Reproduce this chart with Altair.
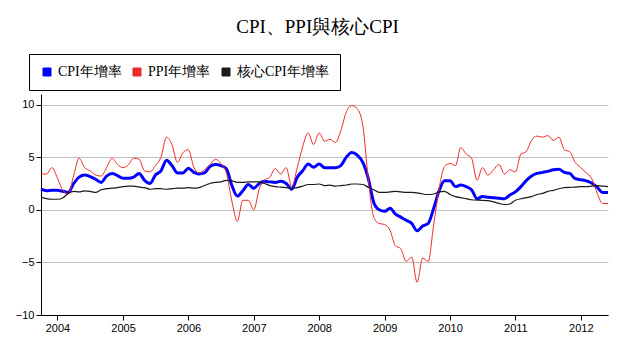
import altair as alt
import pandas as pd

# Monthly data, Oct 2003 .. Jun 2012
start_month = "2003-10-01"
n_months = 105
months = pd.date_range(start_month, periods=n_months, freq="MS").strftime("%Y-%m-%d").tolist()

series_names = ["CPI年增率", "PPI年增率", "核心CPI年增率"]

cpi = [
    1.95, 1.8, 1.85,
    1.85, 1.75, 1.65, 2.5, 3.1, 3.3, 3.15, 2.9, 2.6, 3.2, 3.45, 3.25,
    3.0, 3.0, 3.1, 3.45, 2.8, 2.5, 3.3, 3.7, 4.7, 4.2, 3.5, 3.5,
    3.95, 3.55, 3.4, 3.5, 4.1, 4.3, 4.2, 3.9, 2.3, 1.3, 1.8, 2.4,
    2.05, 2.5, 2.7, 2.65, 2.6, 2.7, 2.5, 1.95, 3.1, 3.7, 4.35, 4.05,
    4.35, 4.0, 4.0, 4.0, 4.2, 5.0, 5.45, 5.2, 4.5, 3.0, 0.7, 0.0,
    -0.15, 0.15, -0.4, -0.7, -1.0, -1.3, -2.0, -1.55, -1.3, 0.1, 1.8, 2.75,
    2.75, 2.2, 2.35, 2.2, 1.9, 1.05, 1.25, 1.2, 1.15, 1.1, 1.05, 1.4,
    1.7, 2.2, 2.75, 3.2, 3.45, 3.55, 3.65, 3.8, 3.85, 3.55, 3.45, 2.95,
    2.85, 2.75, 2.55, 2.15, 1.65, 1.65,
]

ppi = [
    3.4, 3.4, 4.0,
    3.0, 1.8, 1.5, 3.3, 4.9, 4.0, 3.7, 3.3, 3.2, 4.0, 4.9, 4.3,
    4.0, 4.3, 4.9, 4.8, 3.7, 3.6, 4.2, 5.0, 6.9, 6.2, 4.5, 5.4,
    5.7, 4.0, 3.5, 3.8, 4.3, 4.8, 4.4, 3.5, 0.8, -1.1, 0.9, 0.9,
    0.0, 2.0, 2.8, 3.1, 3.9, 3.4, 4.0, 2.2, 4.0, 6.0, 7.3, 6.2,
    7.3, 6.5, 6.7, 6.4, 7.5, 9.3, 9.9, 9.6, 8.0, 3.0, -0.7, -1.3,
    -1.4, -2.0, -3.4, -3.7, -4.9, -4.5, -6.9, -4.6, -4.9, -1.5, 2.0, 4.1,
    4.4, 4.2, 5.9, 5.3, 4.9, 2.8, 4.0, 3.3, 3.8, 4.3, 3.4, 3.8,
    3.6, 5.3, 5.5, 6.6, 7.0, 6.9, 7.05, 6.6, 6.9, 5.7, 5.5, 4.5,
    4.0, 3.5, 3.0, 1.6, 0.6, 0.6,
]

core = [
    1.2, 1.05, 1.0,
    1.0, 1.15, 1.55, 1.75, 1.7, 1.8, 1.75, 1.65, 1.9, 2.0, 2.05, 2.1,
    2.2, 2.25, 2.25, 2.15, 2.1, 1.95, 2.0, 2.0, 1.95, 2.0, 2.05, 2.05,
    2.1, 2.05, 2.1, 2.3, 2.5, 2.6, 2.65, 2.8, 2.75, 2.6, 2.6, 2.65,
    2.65, 2.65, 2.5, 2.3, 2.2, 2.15, 2.1, 2.05, 2.1, 2.25, 2.4, 2.4,
    2.45, 2.3, 2.35, 2.25, 2.3, 2.35, 2.45, 2.45, 2.4, 2.15, 1.9, 1.65,
    1.65, 1.7, 1.75, 1.7, 1.65, 1.65, 1.6, 1.5, 1.45, 1.5, 1.7, 1.75,
    1.45, 1.25, 1.15, 1.05, 0.95, 0.92, 0.9, 0.86, 0.75, 0.6, 0.5, 0.55,
    0.9, 1.05, 1.15, 1.25, 1.45, 1.55, 1.75, 1.85, 2.0, 2.1, 2.13, 2.15,
    2.2, 2.2, 2.25, 2.3, 2.25, 2.2,
]

y_ticks = [-10, -5, 0, 5, 10]
line_colors = ["#0000ff", "#f22a2a", "#1a1a1a"]
line_widths = [3, 1, 1.2]

assert len(cpi) == len(ppi) == len(core) == n_months


def frame(name, vals):
    return pd.DataFrame({"date": months, "value": vals, "series": name})


legend = alt.Legend(
    title=None,
    orient="none",
    legendX=-12,
    legendY=-40,
    direction="horizontal",
    strokeColor="black",
    padding=11,
    symbolType="square",
    symbolSize=64,
    symbolOpacity=1,
    symbolStrokeColor="black",
    symbolStrokeWidth=1,
    labelFont="Liberation Serif",
    labelFontSize=14,
    labelColor="black",
    labelOffset=4,
    columnPadding=8,
)

color_scale = alt.Scale(domain=series_names, range=line_colors)

x = alt.X(
    "date:T",
    scale=alt.Scale(
        type="utc",
        domain=[
            alt.DateTime(year=2003, month=10, date=1, utc=True),
            alt.DateTime(year=2012, month=6, date=1, utc=True),
        ],
    ),
    axis=alt.Axis(
        title=None,
        format="%Y",
        tickCount="year",
        grid=False,
        labelFont="Liberation Sans",
        labelFontSize=11,
        labelColor="black",
        labelPadding=2,
        tickSize=5,
        tickColor="black",
        domainColor="black",
        labelFlush=False,
    ),
)

y = alt.Y(
    "value:Q",
    scale=alt.Scale(domain=[-10, 11], nice=False, zero=False),
    axis=alt.Axis(
        title=None,
        values=y_ticks,
        grid=True,
        gridColor="#c0c0c0",
        gridWidth=1,
        labelFont="Liberation Sans",
        labelFontSize=11,
        labelColor="black",
        labelPadding=2,
        tickSize=5,
        tickColor="black",
        domainColor="black",
    ),
)

layers = []
for name, vals, w in zip(series_names, [cpi, ppi, core], line_widths):
    layers.append(
        alt.Chart(frame(name, vals))
        .mark_line(interpolate="monotone", strokeWidth=w)
        .encode(x=x, y=y, color=alt.Color("series:N", scale=color_scale, legend=None))
    )

# invisible filled squares that only carry the legend
key_df = pd.DataFrame(
    {"date": [months[0]] * 3, "value": [cpi[0], ppi[0], core[0]], "series": series_names}
)
key_layer = (
    alt.Chart(key_df)
    .mark_square(filled=True, opacity=0, size=64)
    .encode(x=x, y=y, color=alt.Color("series:N", scale=color_scale, legend=legend))
)

chart = (
    alt.layer(key_layer, *layers)
    .properties(
        width=567,
        height=221,
        autosize=alt.AutoSizeParams(type="none"),
        padding={"left": 41, "top": 94, "right": 22, "bottom": 33},
        title=alt.TitleParams(
            text="CPI、PPI與核心CPI",
            font="Liberation Serif",
            fontSize=19,
            fontWeight="normal",
            color="black",
            anchor="middle",
            dx=-7,
            offset=17,
        ),
    )
    .configure_view(stroke=None)
)

chart.save("out.html", embed_options={"renderer": "svg", "actions": False})
